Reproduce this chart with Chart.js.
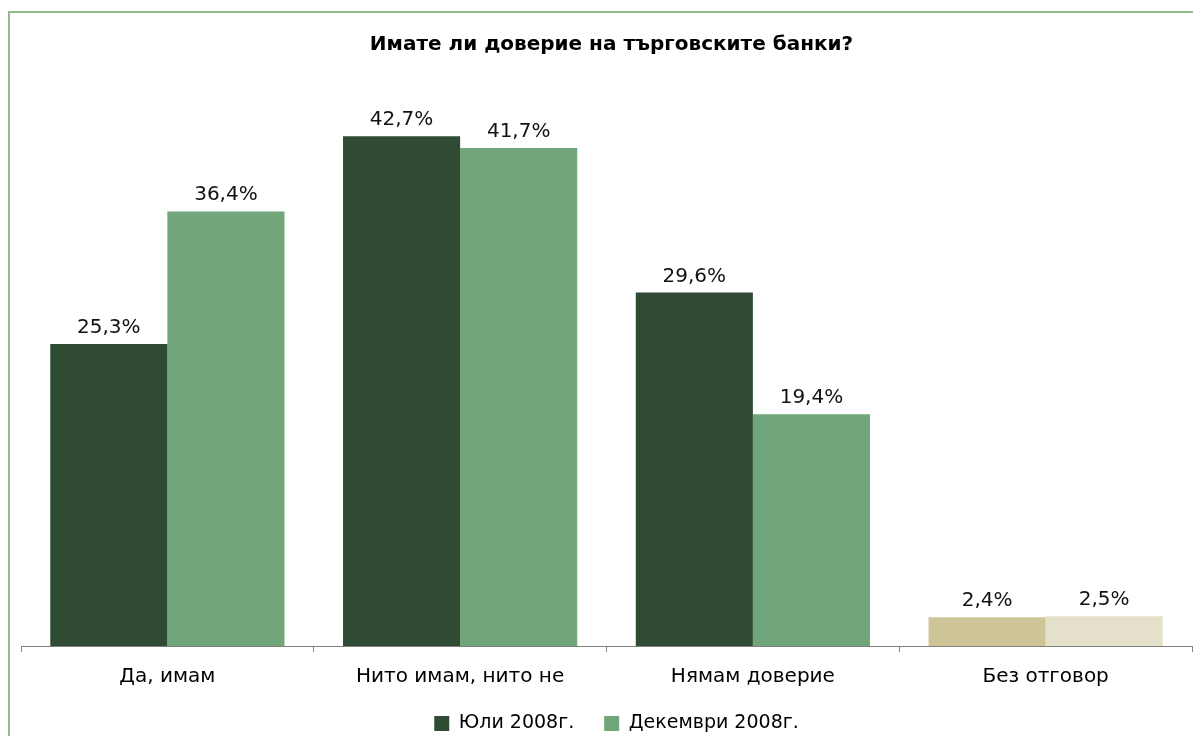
<!DOCTYPE html>
<html>
<head>
<meta charset="utf-8">
<script src="https://cdn.jsdelivr.net/npm/chart.js@4.4.1/dist/chart.umd.min.js"></script>
<style>
  html, body { margin: 0; padding: 0; background: #fff; overflow: hidden; }
  #wrap { position: relative; width: 1193px; height: 736px; overflow: hidden; }
  #frame { position: absolute; left: 8px; top: 11px; width: 1300px; height: 800px;
           border: 2px solid #8fbb8f; box-sizing: border-box; }
  canvas { position: absolute; left: 0; top: 0; }
</style>
</head>
<body>
<div id="wrap">
  <div id="frame"></div>
  <canvas id="c" width="1193" height="767"></canvas>
</div>
<script>
// Survey answers and the two waves
const categories = ['Да, имам', 'Нито имам, нито не', 'Нямам доверие', 'Без отговор'];
const seriesNames = ['Юли 2008г.', 'Декември 2008г.'];
const july2008 = [25.3, 42.7, 29.6, 2.4];
const december2008 = [36.4, 41.7, 19.4, 2.5];

const FONT = 'DejaVu Sans, Verdana, sans-serif';
const darkGreen = '#304b33';
const lightGreen = '#71a67a';
const tanDark = '#cdc597';
const tanLight = '#e5e0c9';

// "No answer" bars use a neutral tan pair
const julyColors = categories.map((c, i) => i === categories.length - 1 ? tanDark : darkGreen);
const decColors = categories.map((c, i) => i === categories.length - 1 ? tanLight : lightGreen);
const legendColors = [darkGreen, lightGreen];

const fmt = v => v.toFixed(1).replace('.', ',') + '%';

// value labels above each bar
const valueLabels = {
  id: 'valueLabels',
  afterDatasetsDraw(chart) {
    const ctx = chart.ctx;
    ctx.save();
    ctx.font = '20px ' + FONT;
    ctx.fillStyle = '#111';
    ctx.textAlign = 'center';
    ctx.textBaseline = 'alphabetic';
    chart.data.datasets.forEach((ds, di) => {
      chart.getDatasetMeta(di).data.forEach((bar, i) => {
        ctx.fillText(fmt(ds.data[i]), bar.x, bar.y - 11);
      });
    });
    ctx.restore();
  }
};

// pull the legend up closer to the category labels, nudge title and legend right
const boxNudge = {
  id: 'boxNudge',
  afterLayout(chart) {
    const lg = chart.legend;
    if (lg) { lg.top -= 24; lg.bottom -= 24; lg.left += 10; lg.right += 10; }
    const tb = chart.titleBlock;
    if (tb) { tb.left += 5; tb.right += 5; }
  }
};

new Chart(document.getElementById('c'), {
  type: 'bar',
  data: {
    labels: categories,
    datasets: [
      { label: seriesNames[0], data: july2008, backgroundColor: julyColors,
        barPercentage: 1.0, categoryPercentage: 0.8 },
      { label: seriesNames[1], data: december2008, backgroundColor: decColors,
        barPercentage: 1.0, categoryPercentage: 0.8 }
    ]
  },
  options: {
    responsive: false,
    animation: false,
    layout: { padding: { left: 21, right: 1, top: 0, bottom: 0 } },
    plugins: {
      title: {
        display: true,
        text: 'Имате ли доверие на търговските банки?',
        color: '#000',
        font: { family: FONT, size: 20, weight: 'bold' },
        padding: { top: 33, bottom: -8 }
      },
      legend: {
        position: 'bottom',
        labels: {
          color: '#000',
          font: { family: FONT, size: 19 },
          boxWidth: 15,
          boxHeight: 15,
          padding: 30,
          generateLabels: chart => chart.data.datasets.map((ds, i) => ({
            text: ds.label,
            fillStyle: legendColors[i],
            strokeStyle: legendColors[i],
            lineWidth: 0,
            hidden: false,
            datasetIndex: i
          }))
        }
      },
      tooltip: { enabled: false }
    },
    scales: {
      x: {
        grid: { display: true, drawOnChartArea: false, drawTicks: true, tickLength: 6,
                color: '#808080', offset: true },
        border: { display: true, color: '#808080', width: 1 },
        ticks: { color: '#000', font: { family: FONT, size: 20 }, padding: 13, maxRotation: 0 },
        afterFit: s => { s.height = 62; }
      },
      y: {
        display: false,
        min: 0,
        max: 50
      }
    }
  },
  plugins: [valueLabels, boxNudge]
});
</script>
</body>
</html>
